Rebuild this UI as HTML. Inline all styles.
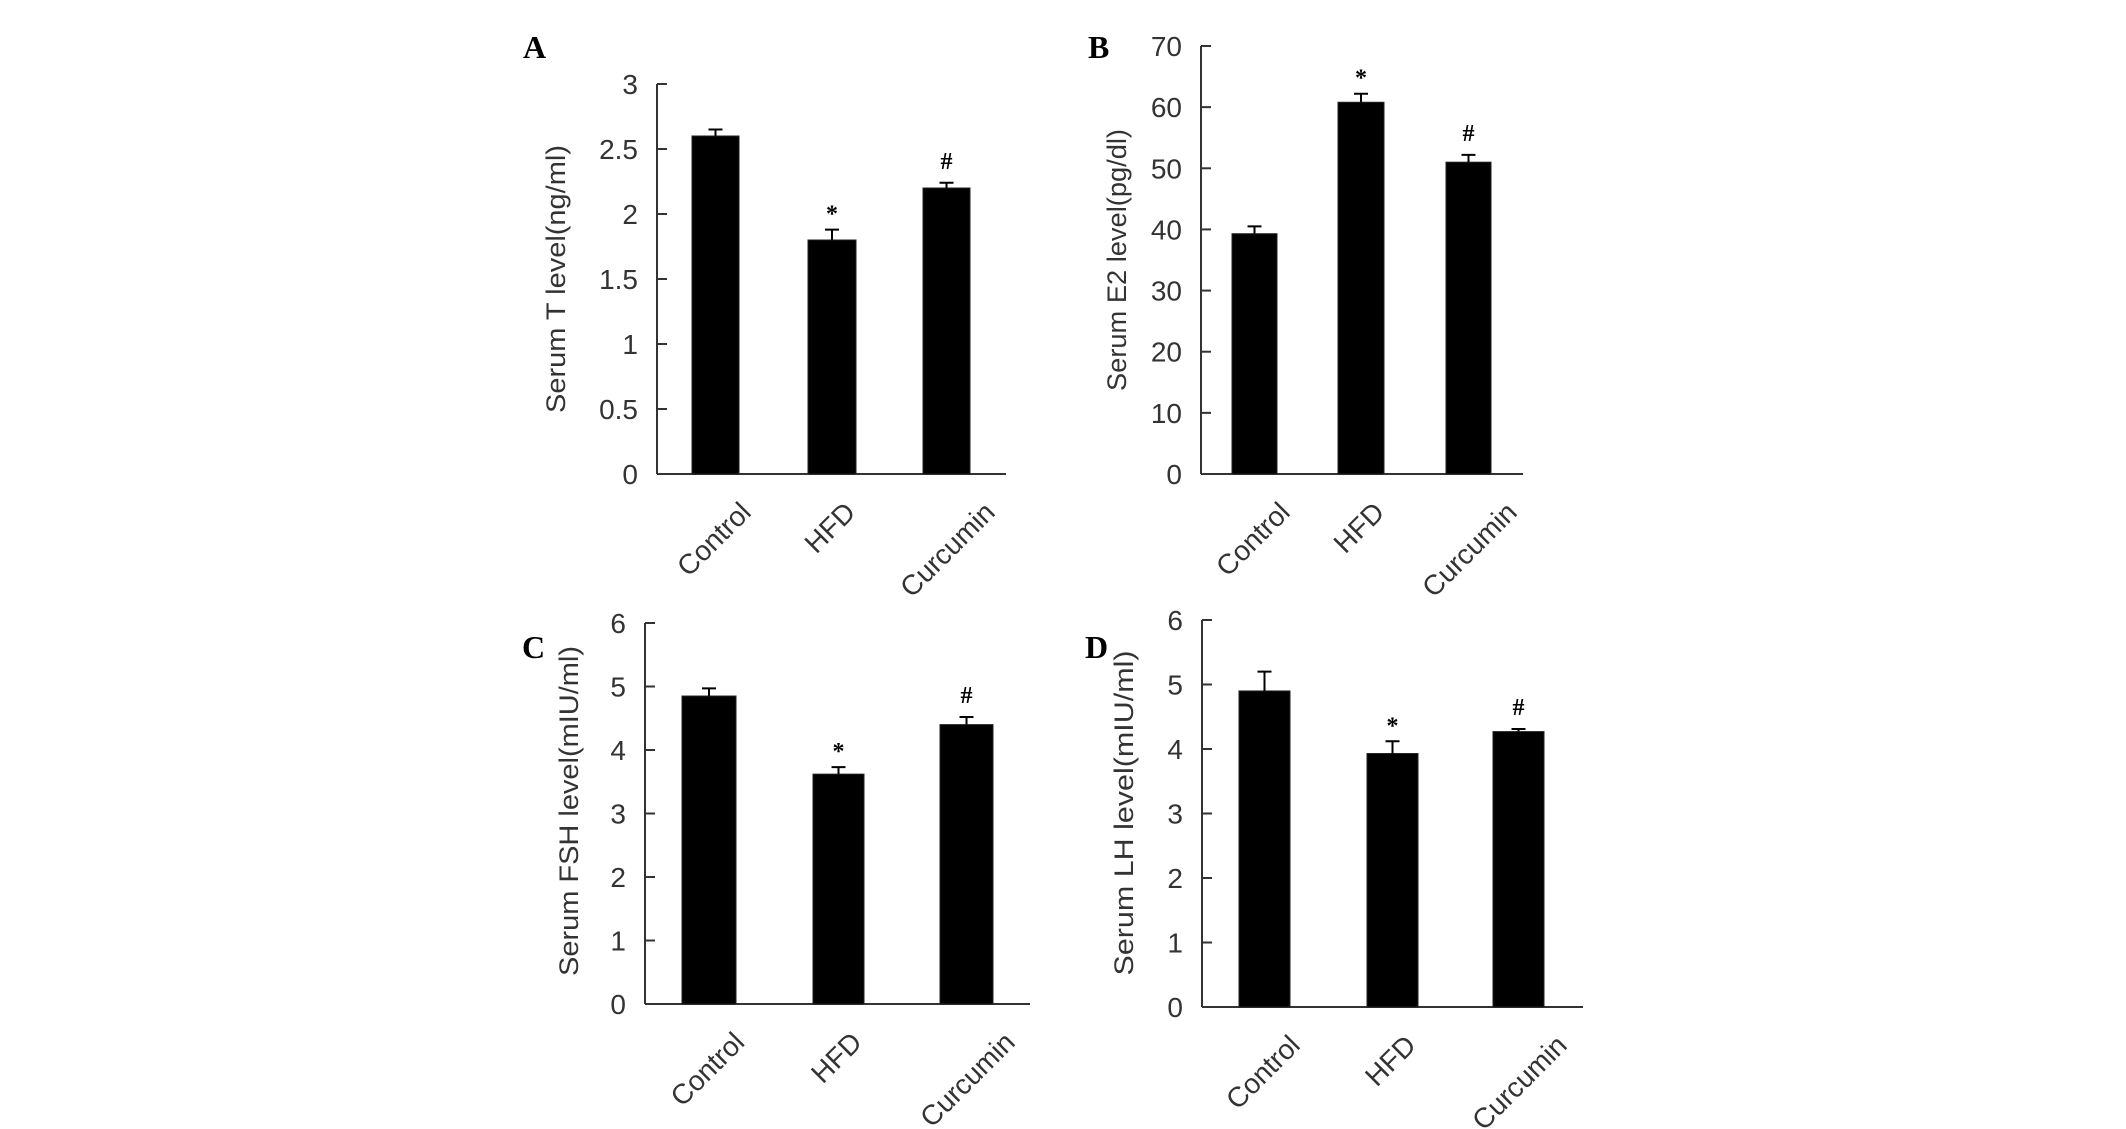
<!DOCTYPE html>
<html><head><meta charset="utf-8"><style>
html,body{margin:0;padding:0;background:#fff;}
svg{display:block;}
</style></head><body>
<svg id="fig" width="2126" height="1129" viewBox="0 0 2126 1129" xmlns="http://www.w3.org/2000/svg"></svg>
<script>
const categories = ["Control", "HFD", "Curcumin"];
const valuesA = [2.6, 1.8, 2.2];
const errorsA = [0.05, 0.08, 0.04];
const ticksA = ["0", "0.5", "1", "1.5", "2", "2.5", "3"];
const valuesB = [39.3, 60.8, 51.0];
const errorsB = [1.2, 1.4, 1.2];
const ticksB = ["0", "10", "20", "30", "40", "50", "60", "70"];
const valuesC = [4.85, 3.62, 4.4];
const errorsC = [0.12, 0.11, 0.12];
const ticksC = ["0", "1", "2", "3", "4", "5", "6"];
const valuesD = [4.9, 3.93, 4.27];
const errorsD = [0.3, 0.19, 0.04];
const ticksD = ["0", "1", "2", "3", "4", "5", "6"];
const marksA = ["", "*", "#"];
const marksB = ["", "*", "#"];
const marksC = ["", "*", "#"];
const marksD = ["", "*", "#"];

const NS = "http://www.w3.org/2000/svg";
const svg = document.getElementById("fig");
function mk(tag, attrs, parent, text) {
  const e = document.createElementNS(NS, tag);
  for (const k in attrs) e.setAttribute(k, attrs[k]);
  if (text !== undefined) e.textContent = text;
  parent.appendChild(e);
  return e;
}
const labelShift = [37, 25, 50];

const panels = [
  {id:"a", letter:"A", lx:523, ly:58, axX:657, top:84, zero:474, end:1006, bars:[[692,739],[808,856],[923,970]],
   vals:valuesA, errs:errorsA, ticks:ticksA, marks:marksA, title:"Serum T level(ng/ml)", tx:565, ty:279, tlen:268},
  {id:"b", letter:"B", lx:1088, ly:58, axX:1201, top:46, zero:474, end:1523, bars:[[1232,1277],[1338,1384],[1446,1491]],
   vals:valuesB, errs:errorsB, ticks:ticksB, marks:marksB, title:"Serum E2 level(pg/dl)", tx:1126, ty:260, tlen:262},
  {id:"c", letter:"C", lx:522, ly:658, axX:645, top:623, zero:1004, end:1030, bars:[[682,736],[813,864],[940,993]],
   vals:valuesC, errs:errorsC, ticks:ticksC, marks:marksC, title:"Serum FSH level(mIU/ml)", tx:578, ty:811, tlen:330},
  {id:"d", letter:"D", lx:1085, ly:658, axX:1202, top:620, zero:1007, end:1583, bars:[[1239,1290],[1367,1418],[1493,1544]],
   vals:valuesD, errs:errorsD, ticks:ticksD, marks:marksD, title:"Serum LH level(mIU/ml)", tx:1133, ty:813, tlen:325}
];

panels.forEach(p => {
  const g = mk("g", {}, svg);
  
  
  const maxV = parseFloat(p.ticks[p.ticks.length - 1]);
  const y = v => p.zero - (v / maxV) * (p.zero - p.top);

  const lt = mk("text", {x:p.lx, y:p.ly, "font-family":"Liberation Serif, serif", "font-weight":"bold", "font-size":"32", fill:"#000"}, g, p.letter);
  
  

  const ya = mk("line", {x1:p.axX, y1:p.top, x2:p.axX, y2:p.zero, stroke:"#333", "stroke-width":2}, g);
  
  
  const xa = mk("line", {x1:p.axX, y1:p.zero, x2:p.end, y2:p.zero, stroke:"#333", "stroke-width":2}, g);
  
  

  p.ticks.forEach(t => {
    const ty = y(parseFloat(t));
    const tk = mk("line", {x1:p.axX, y1:ty, x2:p.axX + 10, y2:ty, stroke:"#333", "stroke-width":2}, g);
    
    
    const tl = mk("text", {x:p.axX - 19, y:ty + 10, "text-anchor":"end", "font-family":"Liberation Sans, sans-serif", "font-size":"28", fill:"#333"}, g, t);
    
    
  });

  const yt = mk("text", {x:0, y:0, transform:`translate(${p.tx},${p.ty}) rotate(-90)`, "text-anchor":"middle", "font-family":"Liberation Sans, sans-serif", "font-size":"27", fill:"#333", textLength:p.tlen, lengthAdjust:"spacingAndGlyphs"}, g, p.title);
  
  

  categories.forEach((c, i) => {
    const [x0, x1] = p.bars[i];
    const cx = (x0 + x1) / 2;
    const by = y(p.vals[i]);
    const b = mk("rect", {x:x0, y:by, width:x1 - x0, height:p.zero - by, fill:"#000", stroke:"#222", "stroke-width":1}, g);
    
    
    const ey = y(p.vals[i] + p.errs[i]);
    const el = mk("path", {d:`M${cx},${by} V${ey} M${cx - 7},${ey} H${cx + 7}`, stroke:"#000", "stroke-width":2, fill:"none"}, g);
    
    
    if (p.marks[i]) {
      const m = mk("text", {x:cx, y:ey - (p.marks[i] === "*" ? 8 : 14), "text-anchor":"middle", "font-family":"Liberation Serif, serif", "font-weight":"bold", "font-size":"24", fill:"#000"}, g, p.marks[i]);
      
      
    }
    const xl = mk("text", {x:0, y:0, transform:`translate(${cx + labelShift[i]},${p.zero + 40}) rotate(-45)`, "text-anchor":"end", "font-family":"Liberation Sans, sans-serif", "font-size":"28", fill:"#333"}, g, c);
    
    
  });
});
</script>
</body></html>
